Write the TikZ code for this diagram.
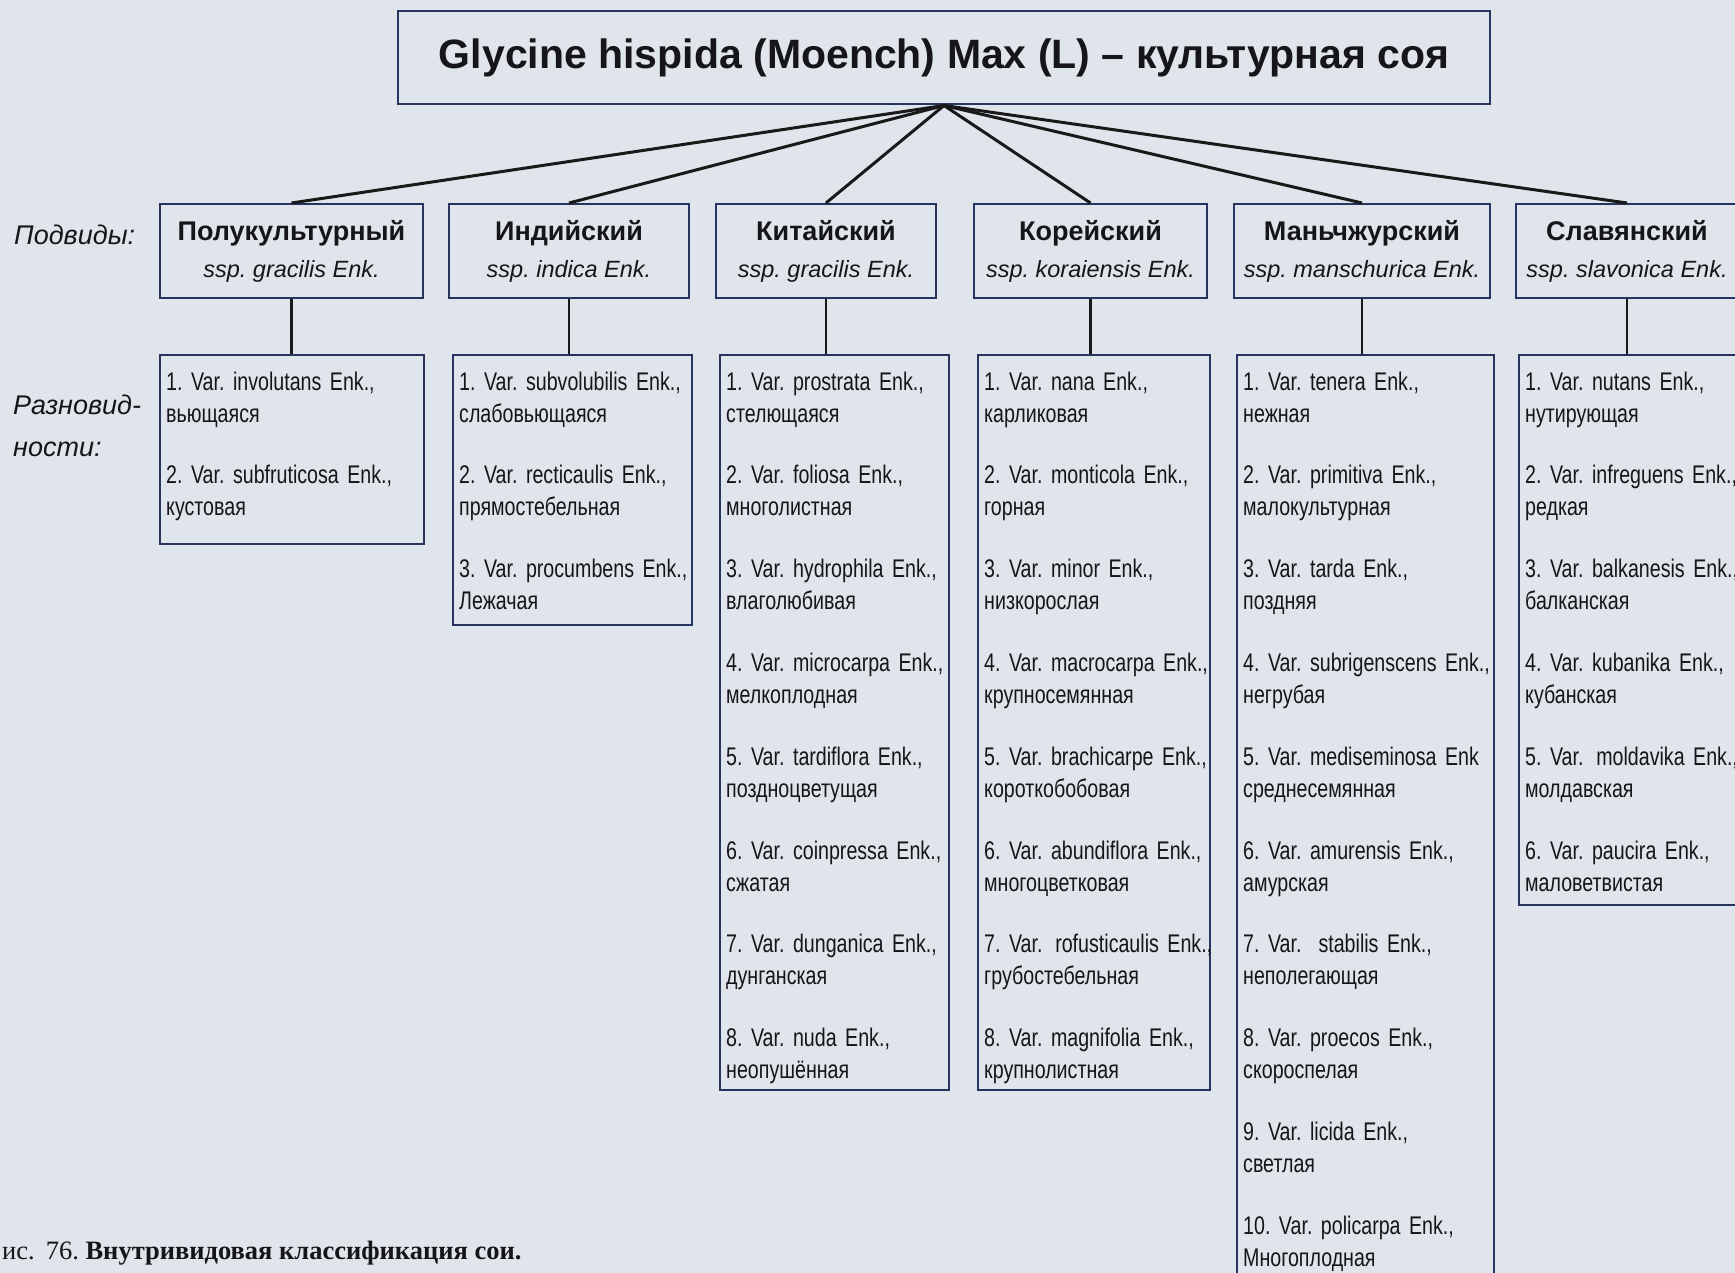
\documentclass[tikz,border=0pt]{standalone}
\usepackage{fontspec}
\setmainfont{Liberation Sans}
\newfontfamily\narrowfont[FakeStretch=0.77]{Liberation Sans}
\newfontfamily\capfont{Liberation Serif}
\usetikzlibrary{positioning}

\definecolor{paper}{RGB}{223,229,235}
\definecolor{frame}{RGB}{40,52,96}
\definecolor{ink}{RGB}{22,22,26}

\tikzset{
  every node/.style={text=ink},
  topbox/.style={draw=frame, line width=2pt, inner sep=0pt,
    font=\bfseries\fontsize{41}{48}\selectfont},
  subbox/.style={draw=frame, line width=2pt, inner sep=0pt, minimum height=94pt,
    align=center, font=\fontsize{27}{37}\selectfont},
  varbox/.style={draw=frame, line width=2pt, inner sep=0pt},
  item/.style={anchor=base west, inner sep=0pt, text width=270pt, align=left,
    font=\narrowfont\fontsize{25.5}{32}\selectfont},
  lbl/.style={anchor=base west, inner sep=0pt, text width=150pt, align=left,
    font=\itshape\fontsize{27}{42}\selectfont},
  fan/.style={line width=3pt, black!90},
  stem/.style={line width=2.2pt, black!90},
}
\newcommand{\ssp}[1]{{\itshape\fontsize{23.5}{37}\selectfont #1}}

\begin{document}
\frenchspacing
\begin{tikzpicture}[x=1pt,y=-1pt]
  \useasboundingbox (0,0) rectangle (1735,1273);
  \clip (0,0) rectangle (1735,1273);
  \fill[paper] (0,0) rectangle (1735,1273);

  \node[topbox, minimum width=1092pt, minimum height=93pt] (top) at (944,58)
    {Glycine hispida (Moench) Max (L) -- культурная соя};

  \node[subbox, minimum width=263pt] (sub1) at (291.5,251) {\textbf{Полукультурный}\\\ssp{ssp. gracilis Enk.}};
  \node[subbox, minimum width=240pt] (sub2) at (569,251)   {\textbf{Индийский}\\\ssp{ssp. indica Enk.}};
  \node[subbox, minimum width=220pt] (sub3) at (826,251)   {\textbf{Китайский}\\\ssp{ssp. gracilis Enk.}};
  \node[subbox, minimum width=233pt] (sub4) at (1090.5,251){\textbf{Корейский}\\\ssp{ssp. koraiensis Enk.}};
  \node[subbox, minimum width=256pt] (sub5) at (1362,251)  {\textbf{Маньчжурский}\\\ssp{ssp. manschurica Enk.}};
  \node[subbox, minimum width=222pt] (sub6) at (1627,251)  {\textbf{Славянский}\\\ssp{ssp. slavonica Enk.}};

  \node[varbox, minimum width=264pt, minimum height=189pt] (var1) at (292,449.5) {};
  \node[varbox, minimum width=239pt, minimum height=270pt] (var2) at (572.5,490) {};
  \node[varbox, minimum width=229pt, minimum height=735pt] (var3) at (834.5,722.5) {};
  \node[varbox, minimum width=232pt, minimum height=735pt] (var4) at (1094,722.5) {};
  \node[varbox, minimum width=257pt, minimum height=935pt] (var5) at (1365.5,822.5) {};
  \node[varbox, minimum width=226pt, minimum height=550pt] (var6) at (1632,630) {};

  \foreach \s in {1,...,6}{
    \draw[fan] (top.south) -- (sub\s.north);
    \draw[stem] (sub\s.south) -- (sub\s.south |- var\s.north);
  }

  \node[lbl] (podvidy) at (14,245) {Подвиды:};
  \node[lbl] (raznov) at (13,414) {Разновид-\\ности:};

  \foreach \t [count=\k] in {{1. Var. involutans Enk.,\\вьющаяся},
      {2. Var. subfruticosa Enk.,\\кустовая}}
    \node[item] (va-\k) at (166,{390+(\k-1)*93.8}) {\t};

  \foreach \t [count=\k] in {{1. Var. subvolubilis Enk.,\\слабовьющаяся},
      {2. Var. recticaulis Enk.,\\прямостебельная},
      {3. Var. procumbens Enk.,\\Лежачая}}
    \node[item] (vb-\k) at (459,{390+(\k-1)*93.8}) {\t};

  \foreach \t [count=\k] in {{1. Var. prostrata Enk.,\\стелющаяся},
      {2. Var. foliosa Enk.,\\многолистная},
      {3. Var. hydrophila Enk.,\\влаголюбивая},
      {4. Var. microcarpa Enk.,\\мелкоплодная},
      {5. Var. tardiflora Enk.,\\поздноцветущая},
      {6. Var. coinpressa Enk.,\\сжатая},
      {7. Var. dunganica Enk.,\\дунганская},
      {8. Var. nuda Enk.,\\неопушённая}}
    \node[item] (vc-\k) at (726,{390+(\k-1)*93.8}) {\t};

  \foreach \t [count=\k] in {{1. Var. nana Enk.,\\карликовая},
      {2. Var. monticola Enk.,\\горная},
      {3. Var. minor Enk.,\\низкорослая},
      {4. Var. macrocarpa Enk.,\\крупносемянная},
      {5. Var. brachicarpe Enk.,\\короткобобовая},
      {6. Var. abundiflora Enk.,\\многоцветковая},
      {7. Var.\ \,rofusticaulis Enk.,\\грубостебельная},
      {8. Var. magnifolia Enk.,\\крупнолистная}}
    \node[item] (vd-\k) at (984,{390+(\k-1)*93.8}) {\t};

  \foreach \t [count=\k] in {{1. Var. tenera Enk.,\\нежная},
      {2. Var. primitiva Enk.,\\малокультурная},
      {3. Var. tarda Enk.,\\поздняя},
      {4. Var. subrigenscens Enk.,\\негрубая},
      {5. Var. mediseminosa Enk\\среднесемянная},
      {6. Var. amurensis Enk.,\\амурская},
      {7. Var.\ \ stabilis Enk.,\\неполегающая},
      {8. Var. proecos Enk.,\\скороспелая},
      {9. Var. licida Enk.,\\светлая},
      {10. Var. policarpa Enk.,\\Многоплодная}}
    \node[item] (ve-\k) at (1243,{390+(\k-1)*93.8}) {\t};

  \foreach \t [count=\k] in {{1. Var. nutans Enk.,\\нутирующая},
      {2. Var. infreguens Enk.,\\редкая},
      {3. Var. balkanesis Enk.,\\балканская},
      {4. Var. kubanika Enk.,\\кубанская},
      {5. Var.\ \,moldavika Enk.,\\молдавская},
      {6. Var. paucira Enk.,\\маловетвистая}}
    \node[item] (vf-\k) at (1525,{390+(\k-1)*93.8}) {\t};

  \node[anchor=base west, inner sep=0pt, font=\capfont\fontsize{26.5}{32}\selectfont]
    (caption) at (2,1259) {ис.\ \,76. \textbf{Внутривидовая классификация сои.}};
\end{tikzpicture}
\end{document}
